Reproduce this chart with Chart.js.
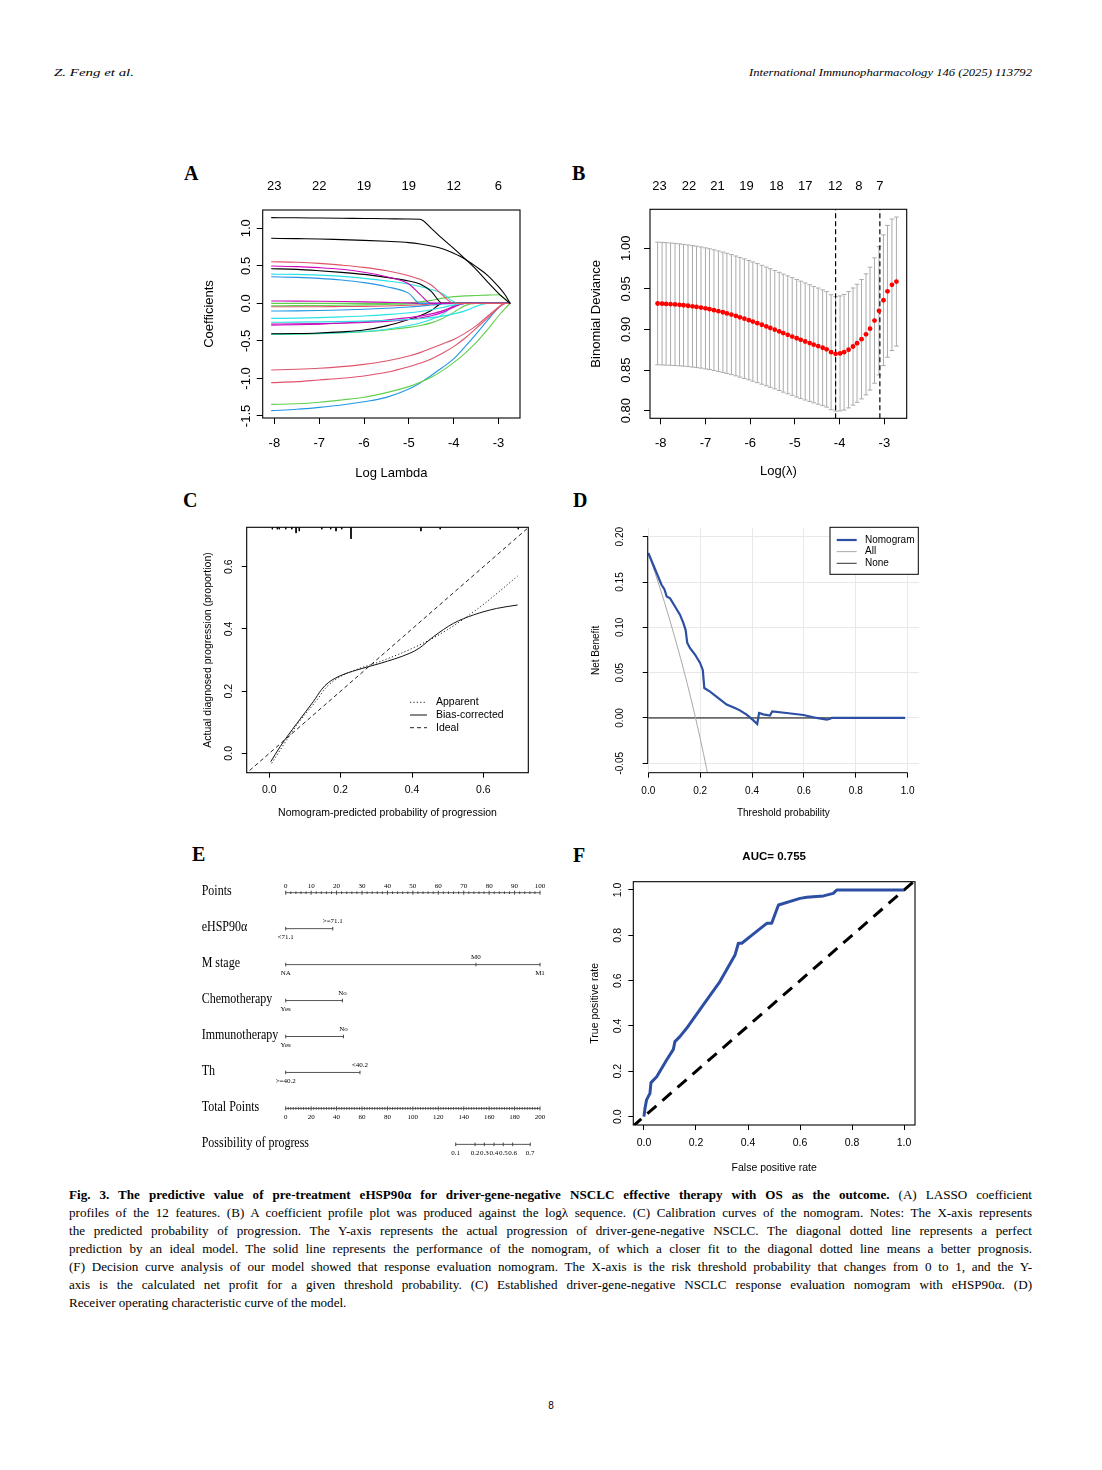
<!DOCTYPE html>
<html><head><meta charset="utf-8">
<script src="https://cdn.jsdelivr.net/npm/chart.js@4.4.1/dist/chart.umd.min.js"></script>
<style>
html,body{margin:0;padding:0;background:#fff;}
body{width:1102px;height:1470px;position:relative;overflow:hidden;color:#000;font-family:'Liberation Serif','Times New Roman',serif;}
.pn{position:absolute;}
.letter{position:absolute;font:bold 20px 'Liberation Serif',serif;line-height:20px;}
.hdr{position:absolute;top:65px;font:italic 11px 'Liberation Serif',serif;line-height:14px;white-space:nowrap;transform-origin:0 50%;}
.cap{position:absolute;left:69px;top:1186px;width:963px;font:13.1px 'Liberation Serif',serif;line-height:18px;}
.cap div{height:18px;white-space:nowrap;text-align:left;}
.pg{position:absolute;top:1400px;left:541px;width:20px;text-align:center;font:10px 'Liberation Sans',Arial,sans-serif;line-height:12px;}
</style></head><body>
<div class="hdr" id="hL" style="left:54px;">Z. Feng et al.</div>
<div class="hdr" id="hR" style="left:749px;">International Immunopharmacology 146 (2025) 113792</div>

<div class="letter" style="left:184px;top:163px;">A</div>
<div class="letter" style="left:572px;top:163px;">B</div>
<div class="letter" style="left:183px;top:490px;">C</div>
<div class="letter" style="left:573px;top:490px;">D</div>
<div class="letter" style="left:192px;top:844px;">E</div>
<div class="letter" style="left:573px;top:845px;">F</div>

<div class="pn" style="left:195px;top:175px;"><canvas id="cA" width="345" height="315"></canvas></div>
<div class="pn" style="left:580px;top:175px;"><canvas id="cB" width="345" height="315"></canvas></div>
<div class="pn" style="left:195px;top:515px;"><canvas id="cC" width="345" height="310"></canvas></div>
<div class="pn" style="left:580px;top:515px;"><canvas id="cD" width="345" height="310"></canvas></div>
<div class="pn" style="left:195px;top:865px;"><canvas id="cE" width="365" height="300"></canvas></div>
<div class="pn" style="left:580px;top:840px;"><canvas id="cF" width="345" height="340"></canvas></div>

<div class="cap">
<div class="j"><span><b>Fig. 3. The predictive value of pre-treatment eHSP90α for driver-gene-negative NSCLC effective therapy with OS as the outcome.</b> (A) LASSO coefficient</span></div>
<div class="j"><span>profiles of the 12 features. (B) A coefficient profile plot was produced against the logλ sequence. (C) Calibration curves of the nomogram. Notes: The X-axis represents</span></div>
<div class="j"><span>the predicted probability of progression. The Y-axis represents the actual progression of driver-gene-negative NSCLC. The diagonal dotted line represents a perfect</span></div>
<div class="j"><span>prediction by an ideal model. The solid line represents the performance of the nomogram, of which a closer fit to the diagonal dotted line means a better prognosis.</span></div>
<div class="j"><span>(F) Decision curve analysis of our model showed that response evaluation nomogram. The X-axis is the risk threshold probability that changes from 0 to 1, and the Y-</span></div>
<div class="j"><span>axis is the calculated net profit for a given threshold probability. (C) Established driver-gene-negative NSCLC response evaluation nomogram with eHSP90α. (D)</span></div>
<div><span>Receiver operating characteristic curve of the model.</span></div>
</div>
<div class="pg">8</div>

<script>
const SANS = "'Liberation Sans', Arial, sans-serif";
const SERIF = "'Liberation Serif', 'Times New Roman', serif";

// ================= DATA =================
// ---- Panel A: LASSO coefficient paths ----
const lambdaA = [-8.07,-7.5,-7,-6.5,-6,-5.5,-5,-4.75,-4.5,-4.25,-4,-3.75,-3.5,-3.25,-3,-2.85,-2.74];
const coef01 = [1.142,1.140,1.137,1.134,1.131,1.128,1.124,1.12,1.0,0.862,0.733,0.596,0.454,0.29,0.134,0.053,0];
const coef02 = [0.867,0.862,0.858,0.849,0.84,0.827,0.809,0.791,0.765,0.729,0.667,0.591,0.489,0.377,0.222,0.111,0];
const coef03 = [0.555,0.547,0.533,0.51,0.48,0.435,0.369,0.32,0.244,0.111,0,0,0,0,0,0,0];
const coef04 = [0.497,0.49,0.476,0.454,0.414,0.355,0.258,0.12,0,0,0,0,0,0,0,0,0];
const coef05 = [0.462,0.453,0.435,0.413,0.386,0.346,0.298,0.258,0.16,0,0,0,0,0,0,0,0];
const coef06 = [0.39,0.386,0.377,0.36,0.333,0.3,0.258,0.225,0.186,0.133,0.02,0,0,0,0,0,0];
const coef07 = [0.355,0.346,0.333,0.311,0.276,0.222,0.133,0,0,0,0,0,0,0,0,0,0];
const coef08 = [0.031,0.03,0.028,0.025,0.02,0.014,0.007,0,0,0,0,0,0,0,0,0,0];
const coef09 = [0,0,0,0,0,0,0.005,0.02,0.04,0.07,0.09,0.1,0.105,0.11,0.115,0.06,0];
const coef10 = [-0.031,-0.03,-0.028,-0.025,-0.02,-0.014,-0.007,0,0,0,0,0,0,0,0,0,0];
const coef11 = [-0.045,-0.045,-0.044,-0.042,-0.04,-0.034,-0.025,-0.018,-0.008,0,0,0,0,0,0,0,0];
const coef12 = [-0.102,-0.1,-0.095,-0.088,-0.078,-0.065,-0.048,-0.036,-0.022,-0.008,0,0,0,0,0,0,0];
const coef13 = [-0.2,-0.197,-0.19,-0.18,-0.168,-0.15,-0.125,-0.108,-0.085,-0.055,-0.02,0,0,0,0,0,0];
const coef14 = [-0.252,-0.25,-0.247,-0.243,-0.237,-0.228,-0.215,-0.205,-0.19,-0.17,-0.14,-0.1,-0.04,0,0,0,0];
const coef15 = [-0.275,-0.273,-0.27,-0.264,-0.255,-0.24,-0.215,-0.195,-0.165,-0.12,-0.05,0,0,0,0,0,0];
const coef16 = [-0.29,-0.285,-0.276,-0.262,-0.245,-0.222,-0.19,-0.17,-0.14,-0.1,-0.04,0,0,0,0,0,0];
const coef17 = [-0.405,-0.402,-0.395,-0.38,-0.355,-0.3,-0.215,-0.165,-0.095,0,0,0,0,0,0,0,0];
const coef18 = [-0.41,-0.407,-0.4,-0.39,-0.375,-0.345,-0.295,-0.262,-0.215,-0.15,-0.03,0,0,0,0,0,0];
const coef19 = [-0.415,-0.41,-0.403,-0.392,-0.378,-0.355,-0.32,-0.295,-0.26,-0.2,-0.12,-0.03,0,0,0,0,0];
const coef20 = [-0.887,-0.878,-0.865,-0.843,-0.812,-0.767,-0.7,-0.656,-0.599,-0.54,-0.48,-0.4,-0.3,-0.175,-0.05,0,0];
const coef21 = [-1.056,-1.043,-1.02,-0.998,-0.967,-0.918,-0.843,-0.798,-0.74,-0.665,-0.576,-0.465,-0.332,-0.2,-0.058,0,0];
const coef22 = [-1.345,-1.338,-1.318,-1.287,-1.251,-1.189,-1.109,-1.052,-0.985,-0.896,-0.79,-0.666,-0.523,-0.354,-0.168,-0.066,0];
const coef23 = [-1.429,-1.411,-1.385,-1.353,-1.31,-1.252,-1.14,-1.06,-0.96,-0.855,-0.74,-0.58,-0.41,-0.23,-0.06,0,0];
const xTicksA = [-8,-7,-6,-5,-4,-3];
const yTicksA = [-1.5,-1.0,-0.5,0,0.5,1.0];
const topPosA = [-8,-7,-6,-5,-4,-3];
const topLabA = ['23','22','19','19','12','6'];

// ---- Panel B: cross-validation curve ----
const lambdaB = [-8.07,-7.97,-7.88,-7.78,-7.68,-7.58,-7.49,-7.39,-7.29,-7.20,-7.10,-7.00,-6.91,-6.81,-6.71,-6.61,-6.52,-6.42,-6.32,-6.23,-6.13,-6.03,-5.94,-5.84,-5.74,-5.64,-5.55,-5.45,-5.35,-5.26,-5.16,-5.06,-4.96,-4.87,-4.77,-4.67,-4.58,-4.48,-4.38,-4.29,-4.19,-4.09,-3.99,-3.90,-3.80,-3.70,-3.61,-3.51,-3.41,-3.32,-3.22,-3.12,-3.02,-2.93,-2.83,-2.73];
const cvMeanB = [0.932,0.9318,0.9315,0.9312,0.9308,0.9303,0.9298,0.9292,0.9285,0.9278,0.927,0.926,0.925,0.9238,0.9225,0.9212,0.9198,0.9183,0.9167,0.915,0.9133,0.9115,0.9097,0.9078,0.9058,0.9038,0.9018,0.8997,0.8976,0.8955,0.8934,0.8913,0.8892,0.8872,0.8852,0.8832,0.8813,0.8795,0.8775,0.8755,0.872,0.870,0.8705,0.872,0.875,0.879,0.883,0.888,0.894,0.901,0.911,0.923,0.936,0.947,0.955,0.959];
const cvSdB = [0.0755,0.0755,0.0754,0.0753,0.0752,0.0751,0.075,0.0749,0.0748,0.0747,0.0746,0.0745,0.0744,0.0743,0.0742,0.0741,0.074,0.0739,0.0738,0.0737,0.0736,0.0735,0.0734,0.0733,0.0732,0.0731,0.073,0.0729,0.0728,0.0727,0.0726,0.0725,0.0724,0.0723,0.0721,0.0719,0.0717,0.0715,0.0713,0.0711,0.0708,0.0705,0.0708,0.0712,0.0716,0.0721,0.0727,0.0735,0.0745,0.0757,0.0772,0.079,0.0805,0.0812,0.081,0.0795];
const lambdaMinB = -4.09;
const lambda1seB = -3.10;
const xTicksB = [-8,-7,-6,-5,-4,-3];
const yTicksB = [0.80,0.85,0.90,0.95,1.00];
const topPosB = [-8.03,-7.37,-6.73,-6.08,-5.41,-4.77,-4.10,-3.57,-3.10];
const topLabB = ['23','22','21','19','18','17','12','8','7'];

// ---- Panel C: calibration ----
const calXApparent = [0.0065,0.077,0.133,0.161,0.198,0.245,0.31,0.42,0.497,0.59,0.696];
const calYApparent = [-0.032,0.091,0.171,0.214,0.246,0.27,0.295,0.348,0.396,0.47,0.57];
const calXBias = [0.004,0.03,0.077,0.123,0.147,0.165,0.198,0.245,0.31,0.394,0.42,0.46,0.516,0.572,0.637,0.696];
const calYBias = [-0.027,0.021,0.096,0.166,0.206,0.227,0.249,0.268,0.289,0.322,0.338,0.375,0.418,0.445,0.466,0.477];
const idealC = [-0.07,0.73];
const rugX = [0.0085,0.0225,0.028,0.046,0.063,0.075,0.084,0.147,0.172,0.187,0.203,0.229,0.425,0.479,0.698];
const rugN = [1,1,1,1,1,3,2,1,1,2,1,6,2,1,1];
const xTicksC = [0,0.2,0.4,0.6];
const yTicksC = [0,0.2,0.4,0.6];

// ---- Panel D: decision curve ----
const threshD = [0,0.019,0.035,0.051,0.062,0.071,0.084,0.103,0.122,0.135,0.144,0.15,0.161,0.18,0.199,0.21,0.216,0.238,0.27,0.302,0.334,0.353,0.379,0.402,0.42,0.427,0.443,0.469,0.478,0.533,0.598,0.649,0.688,0.698,0.707,0.99];
const nbNomoD = [0.182,0.169,0.158,0.147,0.142,0.134,0.132,0.123,0.114,0.105,0.097,0.083,0.077,0.070,0.061,0.053,0.033,0.029,0.022,0.0147,0.011,0.0084,0.0037,-0.0018,-0.0066,0.0055,0.004,0.0026,0.0073,0.0055,0.0033,0,-0.0018,-0.0011,0,0];
const allXD = [0,0.05,0.1,0.15,0.2,0.25];
const allYD = [0.182,0.139,0.091,0.038,-0.0225,-0.0907];
const noneXD = [0,0.99];
const noneYD = [0,0];
const xTicksD = [0,0.2,0.4,0.6,0.8,1.0];
const yTicksD = [-0.05,0,0.05,0.10,0.15,0.20];

// ---- Panel E: nomogram ----
const nomoRows = ['Points','eHSP90α','M stage','Chemotherapy','Immunotherapy','Th','Total Points','Possibility of progress'];
const pointsTickLabels = [0,10,20,30,40,50,60,70,80,90,100];
const ehspLevels = ['<71.1','>=71.1'];  const ehspPts = [0,18.5];
const mLevels = ['NA','M0','M1'];        const mPts = [0,74.8,100];
const chemoLevels = ['Yes','No'];        const chemoPts = [0,22.3];
const immunoLevels = ['Yes','No'];       const immunoPts = [0,22.7];
const thLevels = ['>=40.2','<40.2'];     const thPts = [0,29.2];
const totalTickLabels = [0,20,40,60,80,100,120,140,160,180,200];
const progProb = ['0.1','0.2','0.3','0.4','0.5','0.6','0.7'];
const progTotal = [133.7,148.9,156.2,163.8,171.1,178.5,192.3];

// ---- Panel F: ROC ----
const fprF = [0,0.004,0.01,0.023,0.027,0.049,0.087,0.113,0.119,0.138,0.164,0.228,0.292,0.35,0.363,0.376,0.414,0.472,0.491,0.517,0.6,0.626,0.69,0.728,0.741,1.0];
const tprF = [0,0.037,0.074,0.103,0.15,0.176,0.25,0.297,0.331,0.353,0.39,0.493,0.596,0.713,0.765,0.765,0.80,0.853,0.853,0.934,0.963,0.968,0.974,0.985,1.0,1.0];
const diagF = [-0.045,1.045];
const aucF = '0.755';
const xTicksF = [0,0.2,0.4,0.6,0.8,1.0];
const yTicksF = [0,0.2,0.4,0.6,0.8,1.0];

// ================= STYLES / HELPERS =================
const R4 = {k:'#000000', r:'#DF536B', g:'#61D04F', b:'#2297E6', c:'#28E2E5', m:'#CD0BBC'};
const coefColorsA = [R4.k,R4.k,R4.r,R4.m,R4.k,R4.c,R4.b,R4.m,R4.g,R4.g,R4.r,R4.b,R4.c,R4.c,R4.m,R4.m,R4.k,R4.c,R4.g,R4.r,R4.r,R4.g,R4.b];
const coefPathsA = [coef01,coef02,coef03,coef04,coef05,coef06,coef07,coef08,coef09,coef10,coef11,coef12,coef13,coef14,coef15,coef16,coef17,coef18,coef19,coef20,coef21,coef22,coef23];
const zip = (xs, ys) => xs.map((x,i) => ({x, y: ys[i]}));

function bottomAxis(o){
  return {
    type:'linear', position:'bottom', min:o.min, max:o.max,
    afterBuildTicks: s => { s.ticks = o.ticks.map(v => ({value:v})); },
    afterFit: s => { s.height = o.h; },
    grid: { display:true, drawOnChartArea: !!o.gridOn, color: o.gridColor || '#e5e5e5', lineWidth:1,
            drawTicks:true, tickLength:o.tl, tickColor:'#000', tickWidth:1 },
    border: { display:false },
    ticks: { autoSkip:false, maxRotation:0, minRotation:0, padding:o.pad, color:'#000',
             font:{size:o.fs, family:SANS}, callback: v => Number(v).toFixed(o.dec) },
    title: { display:true, text:o.title, color:'#000', font:{size:o.fs, family:SANS}, padding:{top:0, bottom:o.tpb} }
  };
}
function leftAxis(o){
  return {
    type:'linear', position:'left', min:o.min, max:o.max,
    afterBuildTicks: s => { s.ticks = o.ticks.map(v => ({value:v})); },
    afterFit: s => { s.width = o.w; },
    grid: { display:true, drawOnChartArea: !!o.gridOn, color: o.gridColor || '#e5e5e5', lineWidth:1,
            drawTicks:true, tickLength:o.tl, tickColor:'#000', tickWidth:1 },
    border: { display:false },
    ticks: { display:false },
    title: { display:true, text:o.title, color:'#000', font:{size:o.fs, family:SANS}, padding:{top:o.tpt, bottom:0} }
  };
}
function topAxis(o){
  return {
    type:'linear', position:'top', min:o.min, max:o.max,
    afterBuildTicks: s => { s.ticks = o.pos.map(v => ({value:v})); },
    afterFit: s => { s.height = o.h; },
    grid: { display:false, drawTicks:false, tickLength:0 }, border: { display:false },
    ticks: { autoSkip:false, maxRotation:0, minRotation:0, padding:o.pad, color:'#000',
             font:{size:o.fs, family:SANS}, callback: (v,i) => o.labels[i] }
  };
}

// rotated y tick labels (R style, las=0)
const rotY = { id:'rotY', afterDraw(chart, args, o){
  if (!o || !o.display) return;
  const s = chart.scales.y, ctx = chart.ctx, a = chart.chartArea;
  ctx.save(); ctx.font = o.size + 'px ' + SANS; ctx.fillStyle = '#000';
  ctx.textAlign = 'center'; ctx.textBaseline = 'middle';
  s.ticks.forEach(t => {
    const y = s.getPixelForValue(t.value);
    ctx.save(); ctx.translate(a.left - o.offset, y); ctx.rotate(-Math.PI/2);
    ctx.fillText(Number(t.value).toFixed(o.dec), 0, 0); ctx.restore();
  });
  ctx.restore();
}};
// full frame around plot region
const rBox = { id:'rBox', afterDatasetsDraw(chart, args, o){
  if (!o || !o.display) return;
  const a = chart.chartArea, ctx = chart.ctx;
  ctx.save(); ctx.strokeStyle = '#000'; ctx.lineWidth = 1.1;
  ctx.strokeRect(a.left, a.top, a.right - a.left, a.bottom - a.top); ctx.restore();
}};
// axis lines spanning first..last tick (no frame)
const rAxes = { id:'rAxes', afterDraw(chart, args, o){
  if (!o || !o.display) return;
  const x = chart.scales.x, y = chart.scales.y, a = chart.chartArea, ctx = chart.ctx;
  const xt = x.ticks, yt = y.ticks;
  ctx.save(); ctx.strokeStyle = '#000'; ctx.lineWidth = 1; ctx.beginPath();
  ctx.moveTo(a.left, y.getPixelForValue(yt[0].value)); ctx.lineTo(a.left, y.getPixelForValue(yt[yt.length-1].value));
  ctx.moveTo(x.getPixelForValue(xt[0].value), a.bottom); ctx.lineTo(x.getPixelForValue(xt[xt.length-1].value), a.bottom);
  ctx.stroke(); ctx.restore();
}};
// R style legend drawn from dataset styles
const rLegend = { id:'rLegend', afterDraw(chart, args, o){
  if (!o || !o.display) return;
  const a = chart.chartArea, ctx = chart.ctx;
  ctx.save();
  if (o.box) { ctx.fillStyle = '#fff'; ctx.fillRect(a.left + o.bx, a.top + o.by, o.bw, o.bh);
               ctx.strokeStyle = '#000'; ctx.lineWidth = 1; ctx.strokeRect(a.left + o.bx, a.top + o.by, o.bw, o.bh); }
  ctx.font = o.size + 'px ' + SANS; ctx.textBaseline = 'middle'; ctx.textAlign = 'left'; ctx.fillStyle = '#000';
  o.items.forEach((di, k) => {
    const ds = chart.data.datasets[di];
    const y = a.top + o.y + k * o.dy;
    ctx.save(); ctx.strokeStyle = o.colors ? o.colors[k] : ds.borderColor; ctx.lineWidth = ds.borderWidth;
    ctx.setLineDash(ds.borderDash || []);
    ctx.beginPath(); ctx.moveTo(a.left + o.x, y); ctx.lineTo(a.left + o.x + o.w, y); ctx.stroke(); ctx.restore();
    ctx.fillText(ds.label, a.left + o.x + o.tx, y);
  });
  ctx.restore();
}};
// nomogram row names and level labels
const nomoText = { id:'nomoText', afterDraw(chart, args, o){
  if (!o || !o.display) return;
  const xs = chart.scales.x, ys = chart.scales.y, ctx = chart.ctx, a = chart.chartArea;
  ctx.save(); ctx.fillStyle = '#000'; ctx.textBaseline = 'middle';
  // row names (left aligned, slightly tall glyphs as in the source)
  ctx.font = o.rowSize + 'px ' + SERIF; ctx.textAlign = 'left';
  nomoRows.forEach((name, i) => {
    ctx.save(); ctx.translate(a.left + o.rowX, ys.getPixelForValue(i) - o.rowLift); ctx.scale(1, o.rowStretch);
    ctx.fillText(name, 0, 0); ctx.restore();
  });
  // level / tick labels
  ctx.font = o.size + 'px ' + SERIF; ctx.textAlign = 'center';
  chart.data.datasets.forEach(ds => {
    (ds.nomoLabels || []).forEach(l => {
      const px = xs.getPixelForValue(l.x);
      const py = ys.getPixelForValue(ds.row) + (l.side === 'above' ? -o.up : o.down);
      ctx.fillText(l.text, px, py);
    });
  });
  ctx.restore();
}};

const base = { responsive:false, animation:false, events:[], devicePixelRatio: window.devicePixelRatio || 1,
               elements:{ point:{ radius:0 }, line:{ tension:0 } } };
const noLegend = { legend:{display:false}, tooltip:{enabled:false} };
const lay = p => ({ autoPadding:false, padding:p });

// ================= PANEL A =================
new Chart(document.getElementById('cA'), {
  type:'line',
  data:{ datasets: coefPathsA.map((arr,i) => ({
    data: zip(lambdaA, arr), borderColor: coefColorsA[i], borderWidth:1.1,
    pointRadius:0, cubicInterpolationMode:'monotone', fill:false })) },
  options: Object.assign({}, base, {
    layout: lay({ left:0, right:20, top:0, bottom:0 }),
    scales:{
      x: bottomAxis({min:-8.26, max:-2.52, ticks:xTicksA, h:72, tl:6, pad:11.5, fs:13, dec:0, title:'Log Lambda', tpb:8.9}),
      x2: topAxis({min:-8.26, max:-2.52, pos:topPosA, labels:topLabA, h:35, pad:16.2, fs:13}),
      y: leftAxis({min:-1.527, max:1.244, ticks:yTicksA, w:67.7, tl:6, fs:13, title:'Coefficients', tpt:6.5})
    },
    plugins: Object.assign({}, noLegend, { rotY:{display:true, offset:16, size:13, dec:1}, rBox:{display:true} })
  }),
  plugins:[rotY, rBox]
});

// ================= PANEL B =================
const barsB = [];
const capsB = [];
lambdaB.forEach((x,i) => {
  const lo = cvMeanB[i] - cvSdB[i], hi = cvMeanB[i] + cvSdB[i];
  barsB.push({x, y:lo}, {x, y:hi}, {x, y:null});
  capsB.push({x, y:lo}, {x, y:hi});
});
const yMinB = 0.7906, yMaxB = 1.048;
new Chart(document.getElementById('cB'), {
  type:'line',
  data:{ datasets:[
    { data: zip(lambdaB, cvMeanB), showLine:false, pointRadius:2.4, pointBackgroundColor:'#ff0000', pointBorderWidth:0, order:0 },
    { data:[{x:lambdaMinB,y:yMinB},{x:lambdaMinB,y:yMaxB}], borderColor:'#000', borderWidth:1.2, borderDash:[5,3], pointRadius:0, order:1 },
    { data:[{x:lambda1seB,y:yMinB},{x:lambda1seB,y:yMaxB}], borderColor:'#000', borderWidth:1.2, borderDash:[5,3], pointRadius:0, order:1 },
    { data: capsB, showLine:false, pointStyle:'line', pointRadius:2.3, pointBorderColor:'#ababab', pointBorderWidth:1, order:2 },
    { data: barsB, borderColor:'#ababab', borderWidth:1, spanGaps:false, pointRadius:0, order:3 }
  ]},
  options: Object.assign({}, base, {
    layout: lay({ left:0, right:18.3, top:0, bottom:0 }),
    scales:{
      x: bottomAxis({min:-8.24, max:-2.50, ticks:xTicksB, h:71.7, tl:6, pad:11.2, fs:13, dec:0, title:'Log(λ)', tpb:10.5}),
      x2: topAxis({min:-8.24, max:-2.50, pos:topPosB, labels:topLabB, h:34.3, pad:14.8, fs:13}),
      y: leftAxis({min:yMinB, max:yMaxB, ticks:yTicksB, w:70, tl:6, fs:13, title:'Binomial Deviance', tpt:8.9})
    },
    plugins: Object.assign({}, noLegend, { rotY:{display:true, offset:23.3, size:13, dec:2}, rBox:{display:true} })
  }),
  plugins:[rotY, rBox]
});

// ================= PANEL C =================
const yMaxC = 0.727;
const rugData = [];
rugX.forEach((x,i) => { rugData.push({x, y:yMaxC}, {x, y:yMaxC - rugN[i]*0.0062}, {x, y:null}); });
new Chart(document.getElementById('cC'), {
  type:'line',
  data:{ datasets:[
    { label:'Apparent', data: zip(calXApparent, calYApparent), borderColor:'#222', borderWidth:1, borderDash:[1.2,2.2], cubicInterpolationMode:'monotone', pointRadius:0 },
    { label:'Bias-corrected', data: zip(calXBias, calYBias), borderColor:'#111', borderWidth:1, cubicInterpolationMode:'monotone', pointRadius:0 },
    { label:'Ideal', data: zip(idealC, idealC), borderColor:'#222', borderWidth:1, borderDash:[4,3], pointRadius:0 },
    { label:'rug', data: rugData, borderColor:'#000', borderWidth:1, spanGaps:false, pointRadius:0 }
  ]},
  options: Object.assign({}, base, {
    layout: lay({ left:0, right:11.7, top:12.3, bottom:0 }),
    scales:{
      x: bottomAxis({min:-0.0634, max:0.726, ticks:xTicksC, h:52.3, tl:5, pad:6, fs:10.5, dec:1, title:'Nomogram-predicted probability of progression', tpb:5.4}),
      y: leftAxis({min:-0.0623, max:yMaxC, ticks:yTicksC, w:51.7, tl:5, fs:10.5, title:'Actual diagnosed progression (proportion)', tpt:7})
    },
    plugins: Object.assign({}, noLegend, {
      rotY:{display:true, offset:17.4, size:10.5, dec:1}, rBox:{display:true},
      rLegend:{display:true, items:[0,1,2], x:163.3, y:175, dy:12.7, w:17, tx:26, size:10.5, box:false}
    })
  }),
  plugins:[rotY, rBox, rLegend]
});

// ================= PANEL D =================
new Chart(document.getElementById('cD'), {
  type:'line',
  data:{ datasets:[
    { label:'Nomogram', data: zip(threshD, nbNomoD), borderColor:'#2c4ea3', borderWidth:2.2, pointRadius:0 },
    { label:'All', data: zip(allXD, allYD), borderColor:'#a8a8a8', borderWidth:1, cubicInterpolationMode:'monotone', pointRadius:0 },
    { label:'None', data: zip(noneXD, noneYD), borderColor:'#000', borderWidth:1, pointRadius:0 }
  ]},
  options: Object.assign({}, base, {
    layout: lay({ left:0, right:6, top:13, bottom:0 }),
    scales:{
      x: bottomAxis({min:-0.0023, max:1.0436, ticks:xTicksD, h:52.3, tl:5, pad:8, fs:10, dec:1, title:'Threshold probability', tpb:5.7, gridOn:true, gridColor:'#e8e8e8'}),
      y: leftAxis({min:-0.0604, max:0.2096, ticks:yTicksD, w:67.7, tl:5, fs:10, title:'Net Benefit', tpt:10.7, gridOn:true, gridColor:'#e8e8e8'})
    },
    plugins: Object.assign({}, noLegend, {
      rotY:{display:true, offset:27.7, size:10, dec:2}, rAxes:{display:true},
      rLegend:{display:true, items:[0,1,2], colors:['#2c4ea3','#a8a8a8','#333'], box:true, bx:182.3, by:-0.7, bw:88.3, bh:47,
               x:189, y:12, dy:11.65, w:20, tx:28.3, size:10}
    })
  }),
  plugins:[rotY, rAxes, rLegend]
});

// ================= PANEL E (nomogram) =================
const eSets = [];
const lineStyle = { borderColor:'#555', borderWidth:1, pointStyle:'line', pointRotation:90, pointBorderColor:'#444', pointBorderWidth:1 };
// Points axis
const ptsMinor = []; for (let v = 0; v <= 100; v += 2) ptsMinor.push(v);
eSets.push(Object.assign({}, lineStyle, { row:0, data: ptsMinor.map(v => ({x:v, y:0})),
  pointRadius: ptsMinor.map(v => pointsTickLabels.includes(v) ? 2 : 1.3),
  nomoLabels: pointsTickLabels.map(v => ({x:v, text:String(v), side:'above'})) }));
// variable axes
function varRow(row, labels, pts){
  return Object.assign({}, lineStyle, { row, data: pts.map(p => ({x:p, y:row})), pointRadius:1.8,
    nomoLabels: labels.map((t,i) => ({x:pts[i], text:t, side: i % 2 === 0 ? 'below' : 'above'})) });
}
eSets.push(varRow(1, ehspLevels, ehspPts));
eSets.push(varRow(2, mLevels, mPts));
eSets.push(varRow(3, chemoLevels, chemoPts));
eSets.push(varRow(4, immunoLevels, immunoPts));
eSets.push(varRow(5, thLevels, thPts));
// Total points axis (0-200 mapped onto the 0-100 points span)
const totMinor = []; for (let t = 0; t <= 200; t += 2) totMinor.push(t);
eSets.push(Object.assign({}, lineStyle, { row:6, data: totMinor.map(t => ({x:t/2, y:6})),
  pointRadius: totMinor.map(t => totalTickLabels.includes(t) ? 2 : 1.3),
  nomoLabels: totalTickLabels.map(t => ({x:t/2, text:String(t), side:'below'})) }));
// probability axis
eSets.push(Object.assign({}, lineStyle, { row:7, data: progTotal.map(t => ({x:t/2, y:7})), pointRadius:1.8,
  nomoLabels: progProb.map((p,i) => ({x:progTotal[i]/2, text:p, side:'below'})) }));

new Chart(document.getElementById('cE'), {
  type:'line',
  data:{ datasets: eSets },
  options: Object.assign({}, base, {
    layout: lay(0),
    scales:{
      x:{ type:'linear', display:false, min:-35.67, max:107.86 },
      y:{ type:'linear', display:false, reverse:true, min:-0.7705, max:7.574 }
    },
    plugins: Object.assign({}, noLegend, { nomoText:{display:true, size:7, up:7, down:9, rowSize:12, rowX:6.7, rowLift:1.5, rowStretch:1.25} })
  }),
  plugins:[nomoText]
});

// ================= PANEL F =================
new Chart(document.getElementById('cF'), {
  type:'line',
  data:{ datasets:[
    { label:'ROC', data: zip(fprF, tprF), borderColor:'#2c4ea3', borderWidth:3, pointRadius:0, borderJoinStyle:'round' },
    { label:'diag', data: zip(diagF, diagF), borderColor:'#000', borderWidth:3, borderDash:[12,8], pointRadius:0 }
  ]},
  options: Object.assign({}, base, {
    layout: lay({ left:0, right:10, top:0, bottom:0 }),
    scales:{
      x: bottomAxis({min:-0.041, max:1.042, ticks:xTicksF, h:55, tl:5, pad:7, fs:10.5, dec:1, title:'False positive rate', tpb:5.4}),
      y: leftAxis({min:-0.0368, max:1.0366, ticks:yTicksF, w:53.3, tl:5, fs:10.5, title:'True positive rate', tpt:8.7})
    },
    plugins: Object.assign({}, noLegend, {
      title:{ display:true, text:'AUC= ' + aucF, fullSize:false, color:'#000', font:{size:11.5, weight:'bold', family:SANS}, padding:{top:10.4, bottom:17.5} },
      rotY:{display:true, offset:15, size:10.5, dec:1}, rBox:{display:true}
    })
  }),
  plugins:[rotY, rBox]
});

// ================= TEXT FITTING (caption justification, header widths) =================
document.querySelectorAll('.cap div.j').forEach(d => {
  const span = d.querySelector('span');
  const w = span.getBoundingClientRect().width;
  const n = (d.textContent.trim().match(/ /g) || []).length;
  if (n > 0) d.style.wordSpacing = ((963 - w) / n) + 'px';
});
function fitWidth(id, target){
  const el = document.getElementById(id);
  const w = el.getBoundingClientRect().width;
  el.style.transform = 'scaleX(' + (target / w) + ')';
}
fitWidth('hL', 80);
fitWidth('hR', 283);
</script>
</body></html>
